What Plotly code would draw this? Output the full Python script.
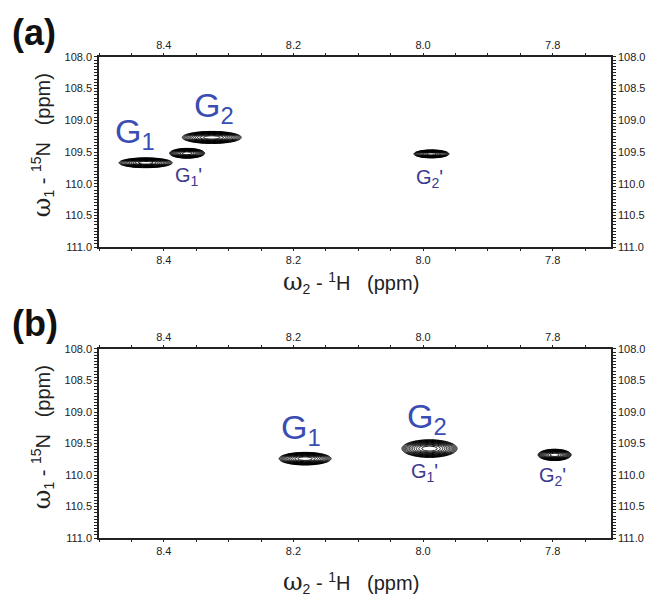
import numpy as np
import plotly.graph_objects as go

# ---------------- data ----------------
# panel (a): cross peaks (1H shift, 15N shift, outer contour width / height in ppm)
a_peak_h = [8.428, 8.364, 8.326, 7.987]
a_peak_n = [109.67, 109.52, 109.27, 109.53]
a_peak_wh = [0.082, 0.054, 0.091, 0.054]
a_peak_wn = [0.155, 0.155, 0.19, 0.125]
a_labels = ["G<sub>1</sub>", "G<sub>2</sub>", "G<sub>1</sub>'", "G<sub>2</sub>'"]
a_label_h = [8.445, 8.323, 8.362, 7.990]
a_label_n = [109.21, 108.79, 109.89, 109.92]

# panel (b)
b_peak_h = [8.182, 7.990, 7.797]
b_peak_n = [109.74, 109.58, 109.68]
b_peak_wh = [0.080, 0.085, 0.051]
b_peak_wn = [0.20, 0.28, 0.18]
b_labels = ["G<sub>1</sub>", "G<sub>2</sub>", "G<sub>1</sub>'", "G<sub>2</sub>'"]
b_label_h = [8.189, 7.994, 7.997, 7.800]
b_label_n = [109.27, 109.10, 109.96, 110.02]

h_range = [8.5, 7.71]
n_range = [111.0, 108.0]

BIG = "#3a4db3"
SMALL = "#3b3a8e"
FONT = "Liberation Sans, Arial, sans-serif"


def spectrum(ph, pn, wh, wn):
    gx = np.linspace(7.72, 8.49, 420)
    gy = np.linspace(108.9, 110.3, 260)
    X, Y = np.meshgrid(gx, gy)
    inten = np.zeros_like(X)
    k = np.sqrt(2 * np.log(20.0))
    for x0, y0, w, h in zip(ph, pn, wh, wn):
        sx = (w / 2) / k
        sy = (h / 2) / k
        inten += np.exp(-0.5 * ((X - x0) / sx) ** 2 - 0.5 * ((Y - y0) / sy) ** 2)
    z = np.maximum(np.log10(inten + 1e-12), -3.0)
    return gx, gy, np.round(z, 3)


fig = go.Figure()
panels = [((a_peak_h, a_peak_n, a_peak_wh, a_peak_wn), "x", "y", "x3", "y3"),
          ((b_peak_h, b_peak_n, b_peak_wh, b_peak_wn), "x2", "y2", "x4", "y4")]
for (ph, pn, wh, wn), xa, ya, xo, yo in panels:
    gx, gy, z = spectrum(ph, pn, wh, wn)
    fig.add_trace(go.Contour(
        x=gx, y=gy, z=z, xaxis=xa, yaxis=ya,
        contours=dict(coloring="lines", start=-1.3, end=-0.05, size=0.1),
        colorscale=[[0, "black"], [1, "black"]], showscale=False,
        line=dict(width=1), hoverinfo="skip"))
    # invisible companion trace so the top / right mirror axes are drawn
    fig.add_trace(go.Scatter(x=ph, y=pn, xaxis=xo, yaxis=yo, mode="markers",
                             marker=dict(opacity=0), hoverinfo="skip"))

# domains (paper fractions)
XD = [99 / 655, 611 / 655]
YD_A = [1 - 246 / 598, 1 - 52 / 598]
YD_B = [1 - 543 / 598, 1 - 350 / 598]

tickfont = dict(family=FONT, size=11, color="#222")
common_x = dict(range=h_range, tick0=8.0, dtick=0.2, tickformat=".1f", ticks="outside",
                ticklen=2, tickwidth=1, tickcolor="#222", showline=True, linecolor="#222",
                linewidth=1.5, showgrid=False, zeroline=False, tickfont=tickfont,
                minor=dict(dtick=0.05, tick0=8.0, ticks="outside", ticklen=2, tickcolor="#222",
                           showgrid=False))
common_y = dict(range=n_range, tick0=108.0, dtick=0.5, tickformat=".1f", ticks="outside",
                ticklen=3, tickwidth=1, tickcolor="#222", showline=True, linecolor="#222",
                linewidth=1.5, showgrid=False, zeroline=False, tickfont=tickfont,
                minor=dict(dtick=0.05, tick0=108.0, ticks="outside", ticklen=3, tickcolor="#222",
                           showgrid=False))

fig.update_layout(
    width=655, height=598, margin=dict(l=0, r=0, t=0, b=0),
    paper_bgcolor="white", plot_bgcolor="white", showlegend=False,
    xaxis=dict(domain=XD, anchor="y", side="bottom", **common_x),
    yaxis=dict(domain=YD_A, anchor="x", side="left", **common_y),
    xaxis3=dict(overlaying="x", anchor="y", side="top", **common_x),
    yaxis3=dict(overlaying="y", anchor="x", side="right", **common_y),
    xaxis2=dict(domain=XD, anchor="y2", side="bottom", **common_x),
    yaxis2=dict(domain=YD_B, anchor="x2", side="left", **common_y),
    xaxis4=dict(overlaying="x2", anchor="y2", side="top", **common_x),
    yaxis4=dict(overlaying="y2", anchor="x2", side="right", **common_y),
)

ann = []
for labels, lh, ln, xr, yr in [(a_labels, a_label_h, a_label_n, "x", "y"),
                               (b_labels, b_label_h, b_label_n, "x2", "y2")]:
    for i, (t, x, y) in enumerate(zip(labels, lh, ln)):
        big = i < 2
        ann.append(dict(text=t, x=x, y=y, xref=xr, yref=yr, showarrow=False,
                        xanchor="center", yanchor="middle",
                        font=dict(family=FONT, size=34 if big else 20,
                                  color=BIG if big else SMALL)))

OMEGA = '<span style="font-family:DejaVu Serif, Liberation Serif, serif;font-size:24px">ω</span>'
SP = "\u00a0"
xt = OMEGA + "<sub>2</sub>" + SP + "-" + SP + "<sup>1</sup>H" + SP * 3 + "(ppm)"
yt = OMEGA + "<sub>1</sub>" + SP + "-" + SP + "<sup>15</sup>N" + SP * 3 + "(ppm)"
for cy_px in [282, 588]:
    ann.append(dict(text=xt, x=(270 + 432) / 2 / 655, y=1 - cy_px / 598, xref="paper",
                    yref="paper", showarrow=False, xanchor="center", yanchor="middle",
                    font=dict(family=FONT, size=20, color="#222")))
for cy_px in [142, 440]:
    ann.append(dict(text=yt, x=42 / 655, y=1 - cy_px / 598, xref="paper", yref="paper",
                    showarrow=False, textangle=-90, xanchor="center", yanchor="middle",
                    font=dict(family=FONT, size=20, color="#222")))
for t, cy_px in [("(a)", 27), ("(b)", 324)]:
    ann.append(dict(text="<b>" + t + "</b>", x=10 / 655, y=1 - cy_px / 598, xref="paper",
                    yref="paper", xanchor="left", yanchor="middle", showarrow=False,
                    font=dict(family=FONT, size=36, color="#111")))
fig.update_layout(annotations=ann)

fig.write_html("out.html", config={"displayModeBar": False},
               post_script="document.body.style.margin='0';document.body.style.overflow='hidden';")
